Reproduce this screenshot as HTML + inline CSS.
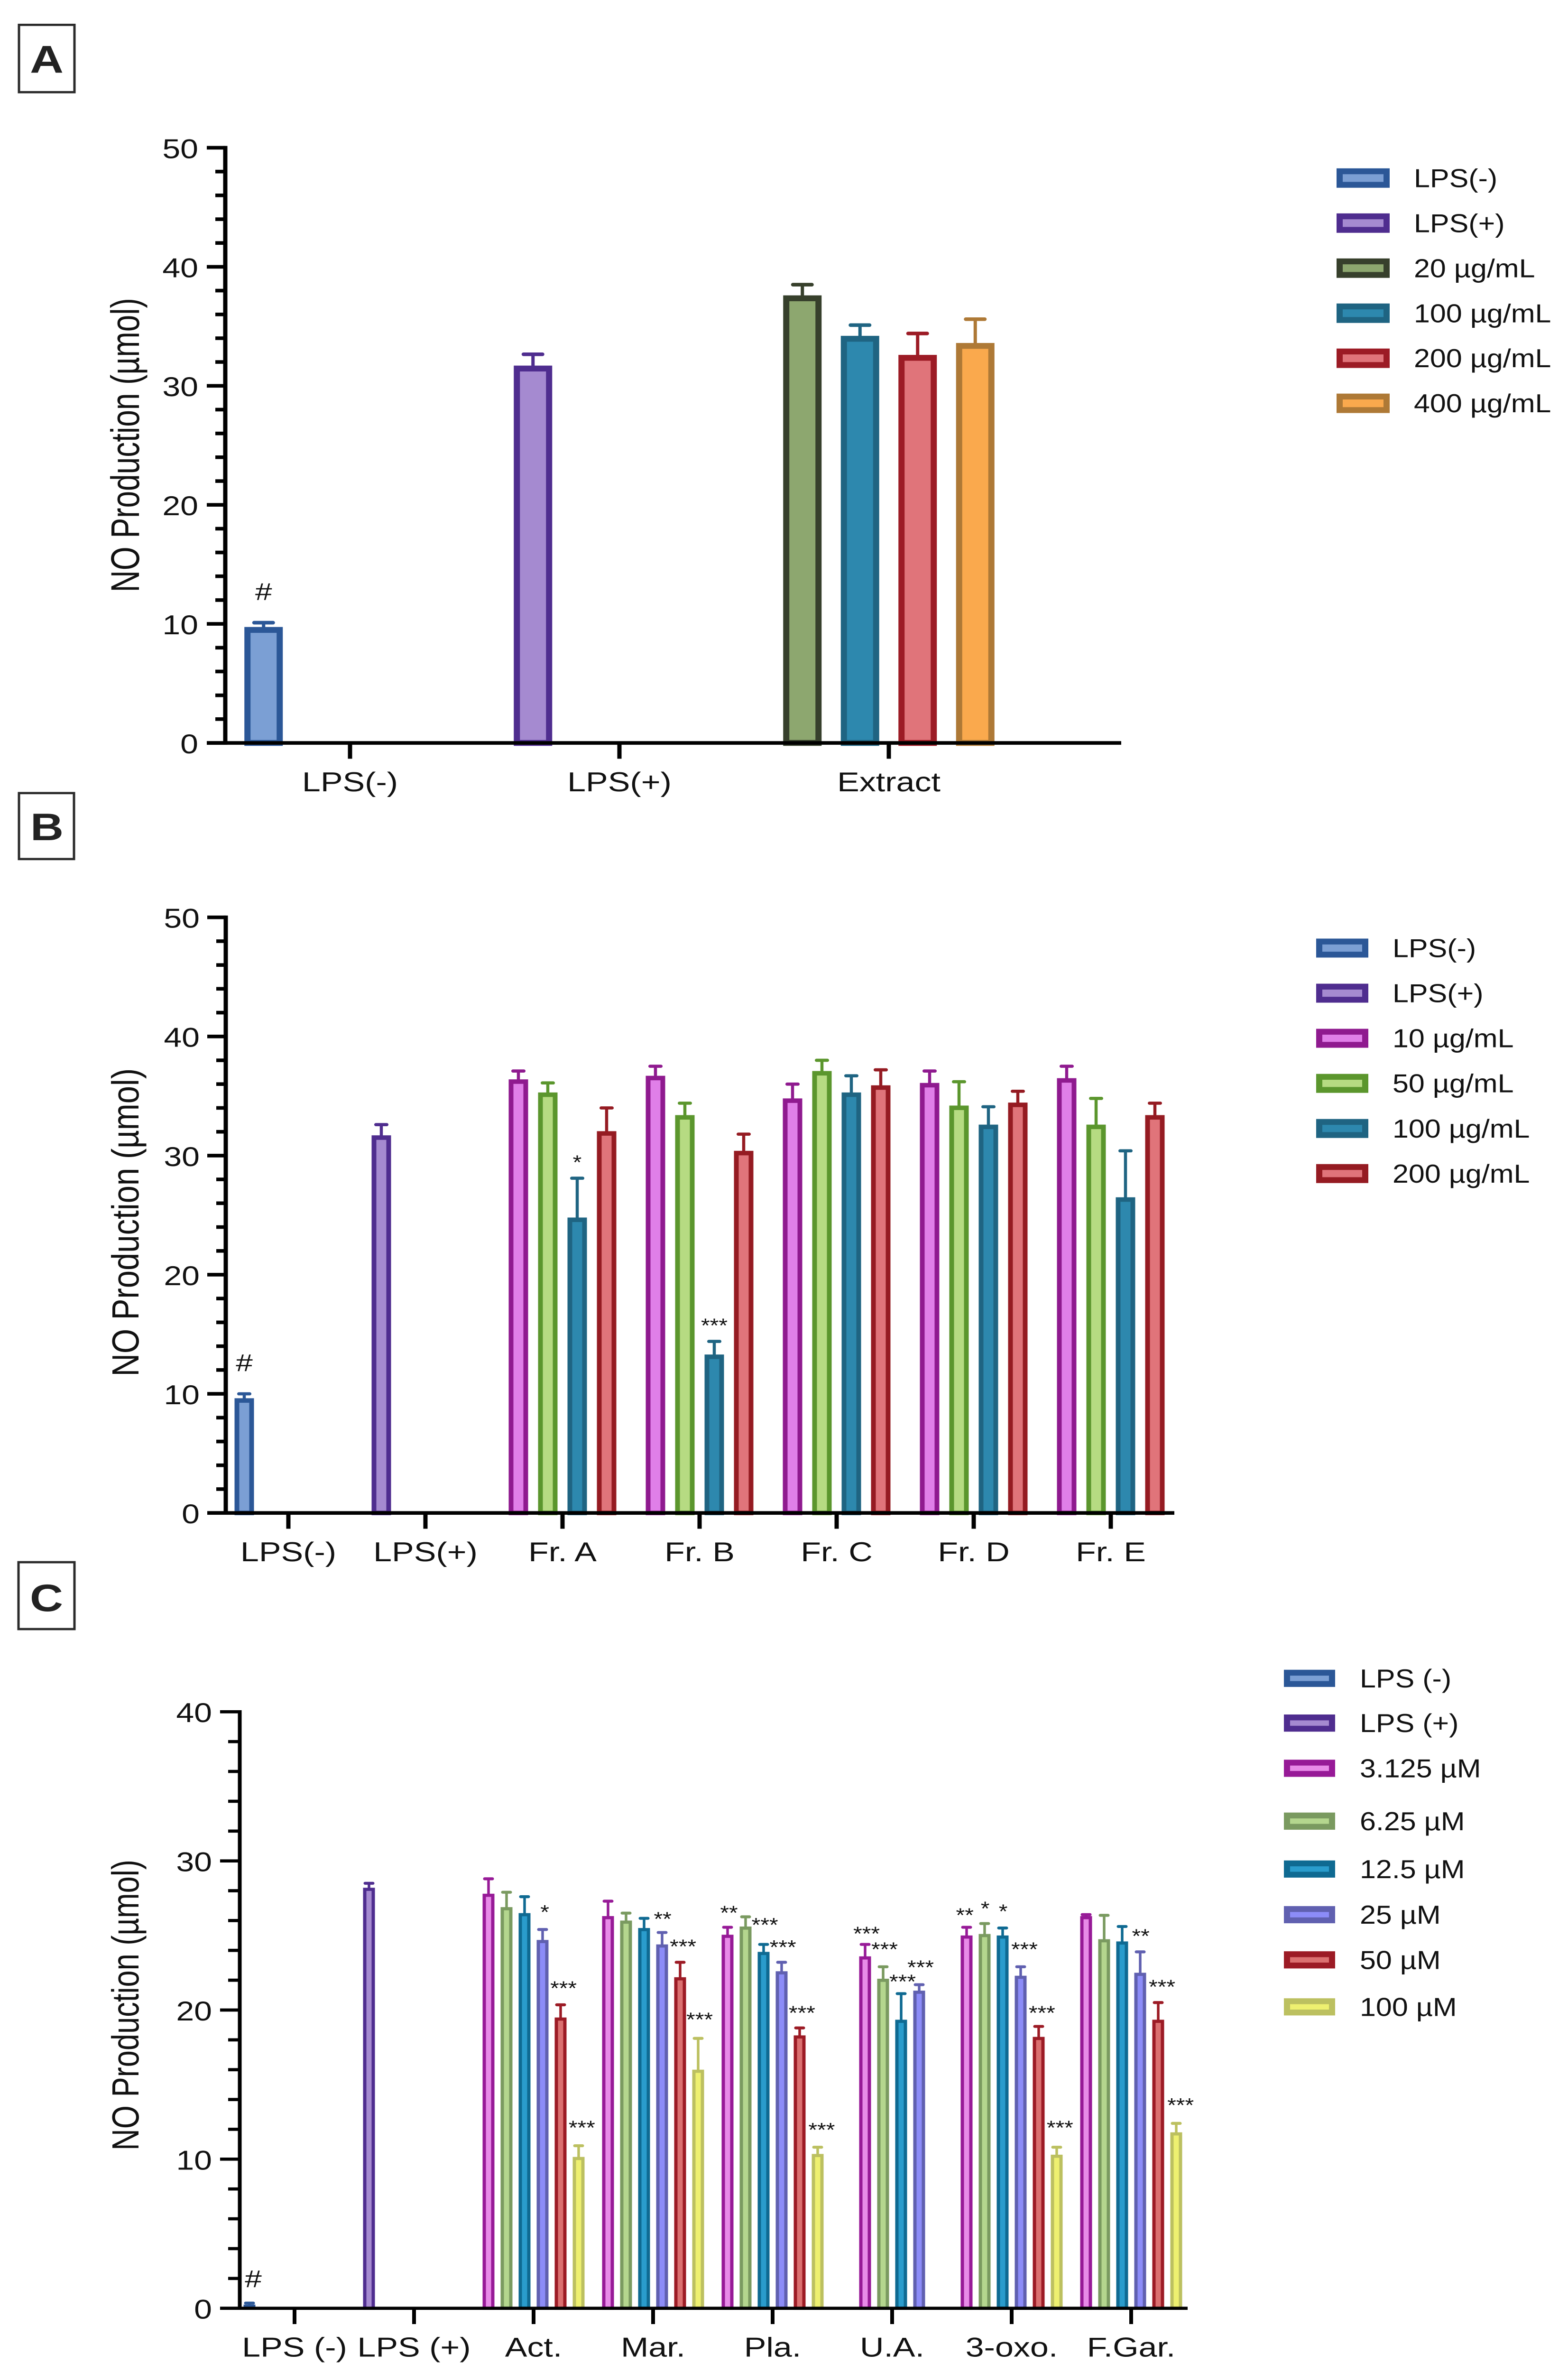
<!DOCTYPE html>
<html lang="en">
<head>
<meta charset="utf-8">
<title>NO Production charts</title>
<style>
html,body{margin:0;padding:0;background:#fff;width:100%;height:100%;overflow:hidden;}
svg{display:block;position:fixed;left:0;top:0;width:100vw;height:100vh;font-family:"Liberation Sans",Arial,sans-serif;}
text{fill:#111;}
.panel-box{fill:#fff;stroke:#2b2b2b;stroke-width:5;}
.panel-letter{font-weight:700;fill:#222;}
</style>
</head>
<body>
<svg id="fig" xmlns="http://www.w3.org/2000/svg" viewBox="0 0 3306 5249" preserveAspectRatio="none">
  <g>
    <rect class="panel-box" x="40" y="55" width="117" height="149"/>
    <text class="panel-letter" transform="translate(98.5 161) scale(1.14 1)" font-size="86" text-anchor="middle">A</text>
  </g>
  <g>
    <rect class="panel-box" x="40" y="1755" width="116" height="146"/>
    <text class="panel-letter" transform="translate(99 1859) scale(1.14 1)" font-size="85" text-anchor="middle">B</text>
  </g>
  <g>
    <rect class="panel-box" x="39" y="3457" width="118" height="148"/>
    <text class="panel-letter" transform="translate(98 3565) scale(1.14 1)" font-size="85" text-anchor="middle">C</text>
  </g>
  <text transform="translate(293 985) rotate(-90) scale(0.8 1)" font-size="84" text-anchor="middle">NO Production (µmol)</text>
  <text transform="translate(292 2705) rotate(-90) scale(0.88 1)" font-size="80" text-anchor="middle">NO Production (µmol)</text>
  <text transform="translate(292 4437) rotate(-90) scale(0.83 1)" font-size="80" text-anchor="middle">NO Production (µmol)</text>
</svg>
<script>
// ---------- Chart A data ----------
const aCategories = ['LPS(-)', 'LPS(+)', 'Extract'];
const aSeriesLabels = ['LPS(-)', 'LPS(+)', '20 µg/mL', '100 µg/mL', '200 µg/mL', '400 µg/mL'];
const aGroupSeries = [[0], [1], [2, 3, 4, 5]];
const aGroupStart = [0, 0, 0];
const aMeans = [[9.74], [31.7], [37.6, 34.2, 32.6, 33.6]];
const aErrors = [[0.36], [0.95], [0.9, 0.9, 1.8, 2.0]];
const aYMajorTicks = [0, 10, 20, 30, 40, 50];
const aNoteGroups = [0];
const aNoteSlots = [-1.5];
const aNoteLevels = [12.73];
const aNoteLabels = ['#'];

// ---------- Chart B data ----------
const bCategories = ['LPS(-)', 'LPS(+)', 'Fr. A', 'Fr. B', 'Fr. C', 'Fr. D', 'Fr. E'];
const bSeriesLabels = ['LPS(-)', 'LPS(+)', '10 µg/mL', '50 µg/mL', '100 µg/mL', '200 µg/mL'];
const bGroupSeries = [[0], [1], [2, 3, 4, 5], [2, 3, 4, 5], [2, 3, 4, 5], [2, 3, 4, 5], [2, 3, 4, 5]];
const bGroupStart = [0, 0, 0, 0, 0, 0, 0];
const bMeans = [
  [9.63], [31.7],
  [36.4, 35.3, 24.8, 32.05],
  [36.7, 33.4, 13.3, 30.4],
  [34.8, 37.1, 35.3, 35.9],
  [36.1, 34.2, 32.6, 34.45],
  [36.5, 32.6, 26.5, 33.4]
];
const bErrors = [
  [0.37], [0.9],
  [0.7, 0.8, 3.3, 1.95],
  [0.8, 1.0, 1.1, 1.4],
  [1.2, 0.9, 1.4, 1.3],
  [1.0, 2.0, 1.5, 0.95],
  [1.0, 2.2, 3.9, 1.0]
];
const bYMajorTicks = [0, 10, 20, 30, 40, 50];
const bNoteGroups = [0, 2, 3];
const bNoteSlots = [-1.5, 0.5, 0.5];
const bNoteLevels = [12.63, 29.8, 16.1];
const bNoteLabels = ['#', '*', '***'];

// ---------- Chart C data ----------
const cCategories = ['LPS (-)', 'LPS (+)', 'Act.', 'Mar.', 'Pla.', 'U.A.', '3-oxo.', 'F.Gar.'];
const cSeriesLabels = ['LPS (-)', 'LPS (+)', '3.125 µM', '6.25 µM', '12.5 µM', '25 µM', '50 µM', '100 µM'];
const cGroupSeries = [[0], [1], [2, 3, 4, 5, 6, 7], [2, 3, 4, 5, 6, 7], [2, 3, 4, 5, 6, 7], [2, 3, 4, 5], [2, 3, 4, 5, 6, 7], [2, 3, 4, 5, 6, 7]];
const cGroupStart = [0, 0, 0, 0, 0, 1, 0, 0];
const cMeans = [
  [0.25], [28.2],
  [27.8, 26.9, 26.5, 24.7, 19.5, 10.15],
  [26.3, 26.0, 25.5, 24.4, 22.2, 16.0],
  [25.05, 25.6, 23.9, 22.6, 18.3, 10.35],
  [23.6, 22.1, 19.35, 21.3],
  [25.0, 25.1, 25.0, 22.3, 18.2, 10.3],
  [26.3, 24.75, 24.6, 22.5, 19.35, 11.8]
];
const cErrors = [
  [0.1], [0.3],
  [1.0, 1.0, 1.1, 0.7, 0.85, 0.75],
  [1.0, 0.5, 0.65, 0.8, 1.0, 2.1],
  [0.5, 0.65, 0.5, 0.6, 0.5, 0.45],
  [0.8, 0.8, 1.75, 0.4],
  [0.55, 0.7, 0.5, 0.6, 0.7, 0.5],
  [0.1, 1.6, 1.0, 1.4, 1.15, 0.6]
];
const cYMajorTicks = [0, 10, 20, 30, 40];
const cNoteGroups = [0, 2, 2, 2, 3, 3, 3, 4, 4, 4, 4, 4, 5, 5, 5, 5, 6, 6, 6, 6, 6, 6, 7, 7, 7];
const cNoteSlots = [-2.29, 0.62, 1.66, 2.68, 0.53, 1.66, 2.58, -2.42, -0.43, 0.57, 1.63, 2.72, -1.42, -0.42, 0.58, 1.58, -2.6, -1.47, -0.47, 0.71, 1.68, 2.68, 0.53, 1.71, 2.74];
const cNoteLevels = [2.0, 26.85, 21.75, 12.4, 26.4, 24.55, 19.65, 26.8, 26.0, 24.5, 20.1, 12.25, 25.4, 24.35, 22.2, 23.15, 26.65, 27.1, 26.9, 24.35, 20.1, 12.4, 25.25, 21.85, 13.9];
const cNoteLabels = ['#', '*', '***', '***', '**', '***', '***', '**', '***', '***', '***', '***', '***', '***', '***', '***', '**', '*', '*', '***', '***', '***', '**', '***', '***'];

// ---------- Series styling ----------
const aStrokes = ['#2b5797', '#4f2d8f', '#37402c', '#1f6482', '#9c1b25', '#ae7936'];
const aFills = ['#7b9fd4', '#a58ad0', '#8da76f', '#2d88ae', '#e0747a', '#faa94d'];
const bStrokes = ['#2b5797', '#4f2d8f', '#8f1a8f', '#5b962d', '#1f6482', '#951b22'];
const bFills = ['#7b9fd4', '#a58ad0', '#e07fe8', '#b6db82', '#2d88ae', '#e0747a'];
const cStrokes = ['#2b5797', '#4f2d8f', '#971a97', '#7a9a60', '#0f6a92', '#6060b0', '#9c1b25', '#bcc060'];
const cFills = ['#7b9fd4', '#a58ad0', '#e88be8', '#b4d68e', '#2a9ccc', '#8c8cf8', '#db7070', '#eef070'];

const SVG_NS = 'http://www.w3.org/2000/svg';
const fig = document.getElementById('fig');

function mk(tag, attrs, parent) {
  const el = document.createElementNS(SVG_NS, tag);
  for (const k in attrs) el.setAttribute(k, attrs[k]);
  parent.appendChild(el);
  return el;
}
function putText(parent, x, y, str, fy, fx, anchor) {
  const t = mk('text', {
    transform: 'translate(' + x + ' ' + y + ') scale(' + (fx / fy) + ' 1)',
    'font-size': fy,
    'text-anchor': anchor
  }, parent);
  t.textContent = str;
  return t;
}
function slug(s) {
  return String(s).toLowerCase().replace(/µ/g, 'u').replace(/\(-\)/g, 'neg').replace(/\(\+\)/g, 'pos').replace(/[^a-z0-9]+/g, '-').replace(/^-|-$/g, '');
}

function drawChart(cfg) {
  const root = mk('g', {}, fig);
  
  

  const yScale = v => cfg.y0 - (v / cfg.yMax) * (cfg.y0 - cfg.yTop);
  const xTick = i => cfg.xFirst + i * cfg.xStep;
  const xSlot = (i, s) => xTick(i) + s * cfg.slotStep;

  // bars and error bars
  const plot = mk('g', {}, root);
  
  
  cfg.means.forEach((vals, gi) => {
    vals.forEach((v, bi) => {
      const si = cfg.groupSeries[gi][bi];
      const slotIndex = cfg.groupStart[gi] + bi;
      const cx = xSlot(gi, slotIndex - (cfg.slots - 1) / 2);
      const top = yScale(v);
      const cap = yScale(v + cfg.errors[gi][bi]);
      const stroke = cfg.strokes[si];

      const whisker = mk('line', { x1: cx, x2: cx, y1: top + 2, y2: cap, stroke: stroke, 'stroke-width': cfg.whisker }, plot);
      
      

      const capLine = mk('line', { x1: cx - cfg.capW / 2 + cfg.capT / 2, x2: cx + cfg.capW / 2 - cfg.capT / 2, y1: cap, y2: cap, stroke: stroke, 'stroke-width': cfg.capT, 'stroke-linecap': 'round' }, plot);
      
      

      const sw = cfg.barStroke;
      const h = Math.max(cfg.y0 - top - sw / 2, 1);
      const bar = mk('rect', { x: cx - cfg.barW / 2 + sw / 2, y: top + sw / 2, width: cfg.barW - sw, height: h, fill: cfg.fills[si], stroke: stroke, 'stroke-width': sw }, plot);
      
      
    });
  });

  // significance annotations
  const notes = mk('g', {}, root);
  
  
  cfg.noteLabels.forEach((lab, i) => {
    const isHash = lab === '#';
    const fy = isHash ? 54 : 44;
    const fx = isHash ? 64 : 48;
    const base = yScale(cfg.noteLevels[i]) + (isHash ? 0.35 : 0.56) * fy;
    const note = putText(notes, xSlot(cfg.noteGroups[i], cfg.noteSlots[i]), base, lab, fy, fx, 'middle');
    
    
  });

  // y axis
  const yAxis = mk('g', { stroke: '#000' }, root);
  
  
  const spine = mk('line', { x1: cfg.axisX, x2: cfg.axisX, y1: cfg.yTop - cfg.tickW / 2, y2: cfg.y0 + cfg.tickW / 2, 'stroke-width': cfg.axisW }, yAxis);
  
  
  for (let v = 0; v <= cfg.yMax; v += 2) {
    const isMajor = cfg.yTicks.indexOf(v) >= 0;
    const tick = mk('line', { x1: isMajor ? cfg.majorLeft : cfg.minorLeft, x2: cfg.axisX, y1: yScale(v), y2: yScale(v), 'stroke-width': cfg.tickW }, yAxis);
    
    
  }
  cfg.yTicks.forEach(v => {
    const lab = putText(root, cfg.yLabelRight, yScale(v) + 23, String(v), 60, 68, 'end');
    
    
  });

  // x axis
  const xAxis = mk('g', { stroke: '#000' }, root);
  
  
  const base = mk('line', { x1: cfg.majorLeft, x2: cfg.xRight, y1: cfg.y0, y2: cfg.y0, 'stroke-width': cfg.tickW }, xAxis);
  
  
  cfg.categories.forEach((c, i) => {
    const tick = mk('line', { x1: xTick(i), x2: xTick(i), y1: cfg.y0, y2: cfg.y0 + 35, 'stroke-width': cfg.axisW }, xAxis);
    
    
    const lab = putText(root, xTick(i), cfg.y0 + 107, c, 60, 70, 'middle');
    
    
  });

  // legend
  const legend = mk('g', {}, root);
  
  
  cfg.series.forEach((s, i) => {
    const entry = mk('g', {}, legend);
    
    
    const rowY = cfg.legendRows(i);
    const sw = 13;
    const swatch = mk('rect', { x: cfg.legendX + sw / 2, y: rowY - cfg.legendH / 2 + sw / 2, width: cfg.legendW - sw, height: cfg.legendH - sw, fill: cfg.fills[i], stroke: cfg.strokes[i], 'stroke-width': sw }, entry);
    
    
    const lab = putText(entry, cfg.legendTextX, rowY + 20, s, 57, 61, 'start');
    
    
  });
}

drawChart({
  name: 'chart-a', categories: aCategories, series: aSeriesLabels, groupSeries: aGroupSeries, groupStart: aGroupStart,
  means: aMeans, errors: aErrors, yTicks: aYMajorTicks, strokes: aStrokes, fills: aFills,
  noteGroups: aNoteGroups, noteSlots: aNoteSlots, noteLevels: aNoteLevels, noteLabels: aNoteLabels,
  yMax: 50, yTop: 327, y0: 1644, axisX: 475, axisW: 9, tickW: 8, majorLeft: 436, minorLeft: 454, yLabelRight: 418, xRight: 2364,
  xFirst: 738, xStep: 568, slots: 4, slotStep: 121.5, barW: 81, barStroke: 13, whisker: 7, capT: 8, capW: 48,
  legendX: 2818, legendW: 112, legendH: 43, legendTextX: 2981,
  legendRows: i => 394 + i * 99.7
});

drawChart({
  name: 'chart-b', categories: bCategories, series: bSeriesLabels, groupSeries: bGroupSeries, groupStart: bGroupStart,
  means: bMeans, errors: bErrors, yTicks: bYMajorTicks, strokes: bStrokes, fills: bFills,
  noteGroups: bNoteGroups, noteSlots: bNoteSlots, noteLevels: bNoteLevels, noteLabels: bNoteLabels,
  yMax: 50, yTop: 2030, y0: 3348, axisX: 476, axisW: 9, tickW: 8, majorLeft: 437, minorLeft: 456, yLabelRight: 421, xRight: 2476,
  xFirst: 608, xStep: 289, slots: 4, slotStep: 62, barW: 41, barStroke: 10, whisker: 6.5, capT: 7, capW: 30,
  legendX: 2775, legendW: 110, legendH: 42, legendTextX: 2936,
  legendRows: i => 2098 + i * 99.8
});

const cLegendCenters = [3714, 3813, 3913, 4030, 4136, 4237, 4337, 4441];
drawChart({
  name: 'chart-c', categories: cCategories, series: cSeriesLabels, groupSeries: cGroupSeries, groupStart: cGroupStart,
  means: cMeans, errors: cErrors, yTicks: cYMajorTicks, strokes: cStrokes, fills: cFills,
  noteGroups: cNoteGroups, noteSlots: cNoteSlots, noteLevels: cNoteLevels, noteLabels: cNoteLabels,
  yMax: 40, yTop: 3788, y0: 5108, axisX: 505.5, axisW: 8, tickW: 7, majorLeft: 464, minorLeft: 481, yLabelRight: 447, xRight: 2504,
  xFirst: 621, xStep: 252, slots: 6, slotStep: 38, barW: 25, barStroke: 7, whisker: 5.5, capT: 6.5, capW: 23,
  legendX: 2707, legendW: 108, legendH: 38, legendTextX: 2867,
  legendRows: i => cLegendCenters[i]
});
</script>
</body>
</html>
